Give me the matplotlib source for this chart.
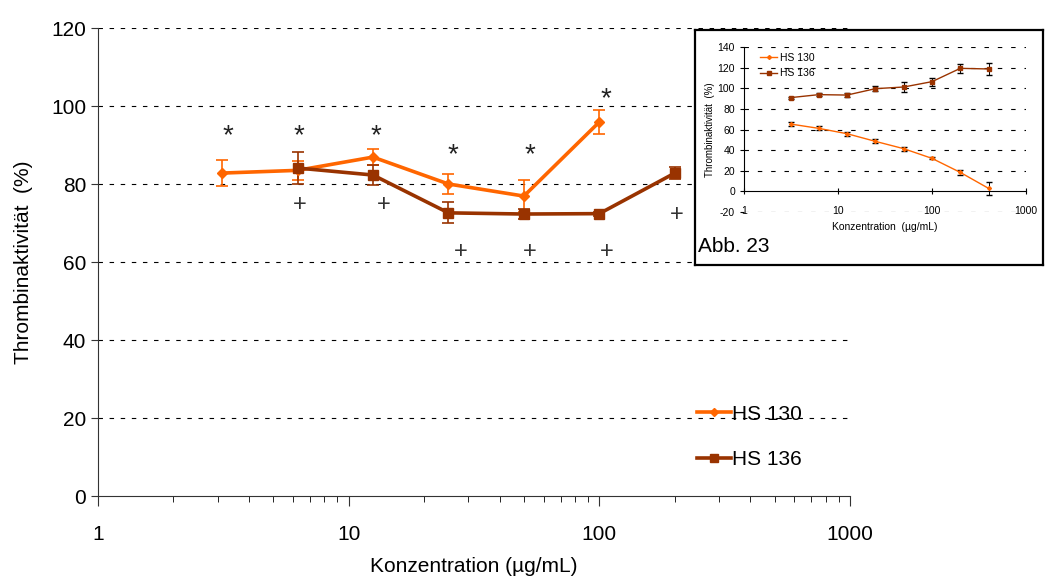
import matplotlib
matplotlib.use("Agg")
import matplotlib.pyplot as plt
from matplotlib.lines import Line2D
import numpy as np

plt.rcParams['font.family'] = ['Liberation Sans', 'DejaVu Sans']
plt.rcParams['axes.unicode_minus'] = False

# ---- main chart data ----
conc_130 = [3.125, 6.25, 12.5, 25, 50, 100]
act_130 = [82.8, 83.5, 86.9, 80.0, 76.9, 95.9]
err_130 = [3.4, 2.5, 2.0, 2.5, 4.0, 3.2]

conc_136 = [6.25, 12.5, 25, 50, 100, 200]
act_136 = [84.1, 82.3, 72.6, 72.3, 72.4, 82.8]
err_136 = [4.0, 2.5, 2.7, 1.2, 0.5, 1.5]

star_x = [3.3, 6.35, 12.85, 26.1, 52.9, 106]
star_y = [92.3, 92.3, 92.3, 87.3, 87.3, 101.8]
plus_x = [6.4, 13.8, 28, 52.9, 107, 204]
plus_y = [74.6, 74.6, 62.6, 62.6, 62.6, 72.0]

y_ticks = [0, 20, 40, 60, 80, 100, 120]
x_ticks = [1, 10, 100, 1000]
x_tick_labels = ['1', '10', '100', '1000']

# ---- inset data ----
in_conc = [3.125, 6.25, 12.5, 25, 50, 100, 200, 400]
in_130 = [65.3, 61.1, 55.9, 48.5, 41.4, 32.0, 18.4, 2.9]
in_err_130 = [2, 2, 2, 2, 2, 1, 2.5, 6.5]
in_136 = [90.9, 93.8, 93.4, 99.6, 101.2, 106.4, 119.3, 118.7]
in_err_136 = [1, 1.5, 2, 2.5, 5, 4, 4.5, 6]
in_y_ticks = [-20, 0, 20, 40, 60, 80, 100, 120, 140]

C130 = '#FF6600'
C136 = '#993300'

W, H = 1047, 576
fig = plt.figure(figsize=(W / 100, H / 100), dpi=100)

def fax(l, t, r, b):
    return [l / W, 1 - b / H, (r - l) / W, (b - t) / H]

ax = fig.add_axes(fax(98, 28, 850, 496))
ax.set_xscale('log')
ax.set_xlim(1, 1000)
ax.set_ylim(0, 120)
for yv in y_ticks[1:]:
    ax.axhline(yv, color='black', lw=0.8, dashes=(4, 6), zorder=1)
ax.spines['top'].set_visible(False)
ax.spines['right'].set_visible(False)
ax.spines['left'].set_color('#333333')
ax.spines['bottom'].set_color('#333333')
ax.set_yticks(y_ticks)
ax.set_xticks(x_ticks)
ax.set_xticklabels(x_tick_labels)
ax.tick_params(axis='both', labelsize=15, color='#333333')
ax.tick_params(axis='x', which='major', length=7, pad=14, direction='out')
ax.tick_params(axis='x', which='minor', length=4, direction='out')
ax.tick_params(axis='y', length=5)

ax.errorbar(conc_130, act_130, yerr=err_130, color=C130, lw=2.6, marker='D',
            ms=5, capsize=4, elinewidth=1.2, capthick=1.2, zorder=3)
ax.errorbar(conc_136, act_136, yerr=err_136, color=C136, lw=2.6, marker='s',
            ms=6.5, capsize=4, elinewidth=1.2, capthick=1.2, zorder=3)

for xs, ys in zip(star_x, star_y):
    ax.text(xs, ys, '*', fontsize=20, ha='center', va='center', color='#222222')
for xs, ys in zip(plus_x, plus_y):
    ax.text(xs, ys, '+', fontsize=17, ha='center', va='center', color='#333333')

ax.set_xlabel('Konzentration (µg/mL)', fontsize=15, labelpad=9)
ax.set_ylabel('Thrombinaktivität  (%)', fontsize=15, labelpad=13)
h130 = Line2D([], [], color=C130, lw=2.6, marker='D', ms=4)
h136 = Line2D([], [], color=C136, lw=2.6, marker='s', ms=5.5)
ax.legend([h130, h136], ['HS 130', 'HS 136'], loc='lower left',
          bbox_to_anchor=(0.772, 0.018), fontsize=15, frameon=False,
          handlelength=1.6, handletextpad=0.05, labelspacing=1.25)

# ---- inset frame ----
frame = fig.add_axes(fax(695, 30, 1043, 265))
frame.set_xticks([])
frame.set_yticks([])
for s in frame.spines.values():
    s.set_linewidth(1.6)
    s.set_color('black')
frame.text(0.008, 0.04, 'Abb. 23', transform=frame.transAxes, fontsize=15,
           ha='left', va='bottom')

ins = fig.add_axes(fax(744, 47, 1026, 212))
ins.set_facecolor('none')
ins.set_xscale('log')
ins.set_xlim(1, 1000)
ins.set_ylim(-20, 140)
for yv in in_y_ticks:
    if yv != 0:
        ins.axhline(yv, color='black', lw=0.8, dashes=(4, 8), zorder=1)
ins.spines['top'].set_visible(False)
ins.spines['right'].set_visible(False)
ins.spines['bottom'].set_position(('data', 0))
ins.spines['left'].set_bounds(0, 140)
ins.set_yticks(in_y_ticks)
ins.set_xticks(x_ticks)
ins.set_xticklabels(x_tick_labels)
ins.xaxis.set_minor_locator(matplotlib.ticker.NullLocator())
ins.tick_params(axis='both', labelsize=7.5, length=3)
ins.tick_params(axis='x', pad=8, direction='inout', length=5)
ins.errorbar(in_conc, in_130, yerr=in_err_130, color=C130, lw=1.0, marker='D',
             ms=2, ecolor='black', elinewidth=0.7, capsize=2, zorder=3)
ins.errorbar(in_conc, in_136, yerr=in_err_136, color=C136, lw=1.0, marker='s',
             ms=3, ecolor='black', elinewidth=0.7, capsize=2, zorder=3)
ins.set_ylabel('Thrombinaktivität  (%)', fontsize=7, labelpad=2)
ins.set_xlabel('Konzentration  (µg/mL)', fontsize=7.5)
ins.xaxis.set_label_coords(0.5, -0.06)
i130 = Line2D([], [], color=C130, lw=1.0, marker='D', ms=2)
i136 = Line2D([], [], color=C136, lw=1.0, marker='s', ms=3)
ins.legend([i130, i136], ['HS 130', 'HS 136'], loc='upper left',
           bbox_to_anchor=(0.025, 1.02), fontsize=7.5, frameon=False,
           handlelength=1.6, handletextpad=0.3, labelspacing=0.5)

fig.savefig('out.png', dpi=100)
